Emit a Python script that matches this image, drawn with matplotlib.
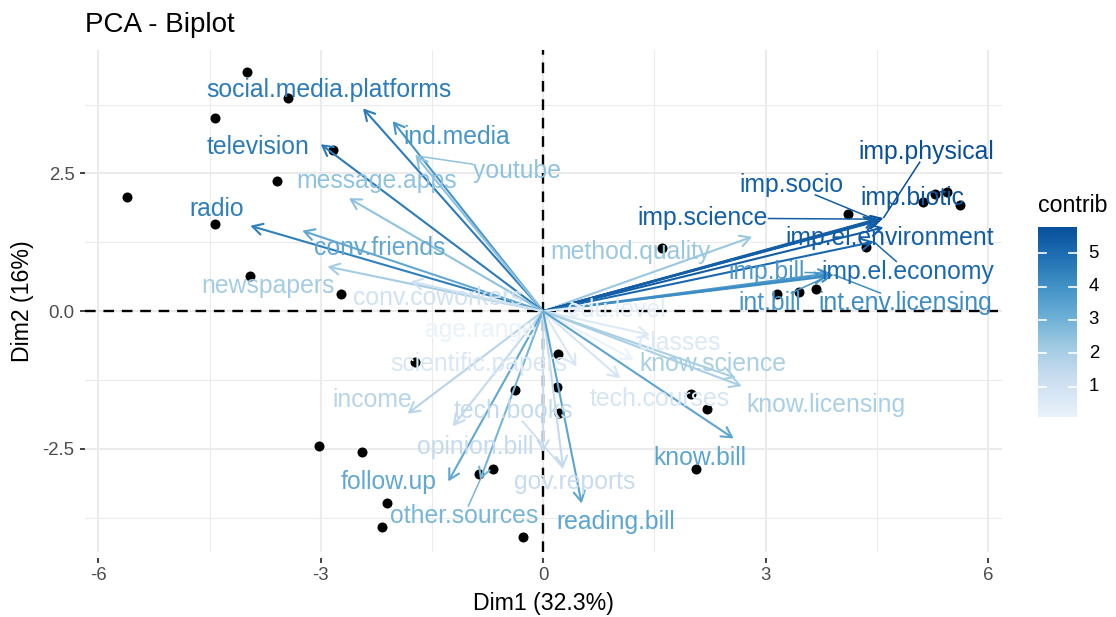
import numpy as np
import matplotlib
matplotlib.use("Agg")
import matplotlib.pyplot as plt
from matplotlib.colors import LinearSegmentedColormap, Normalize

plt.rcParams['font.family'] = ['Liberation Sans', 'DejaVu Sans']

# ---------------- data ----------------
var_names = ["social.media.platforms", "ind.media", "youtube", "television", "message.apps",
             "radio", "conv.friends", "newspapers", "conv.coworkers", "method.quality",
             "imp.physical", "imp.biotic", "imp.socio", "imp.science", "imp.el.environment",
             "imp.el.economy", "imp.bill", "int.bill", "int.env.licensing", "edu.level",
             "classes", "age.range", "scientific.papers", "tech.courses", "know.science",
             "know.licensing", "know.bill", "income", "opinion.bill", "follow.up",
             "other.sources", "gov.reports", "tech.books", "reading.bill"]
var_dim1 = [-2.43, -2.03, -1.72, -3.00, -2.62, -3.95, -3.25, -2.91, -1.79, 2.82,
            4.59, 4.56, 4.52, 4.50, 4.59, 4.46, 3.88, 3.83, 3.92, 0.55,
            1.44, 1.22, 0.45, 1.04, 2.60, 2.68, 2.57, -1.83, -1.22, -1.28,
            -0.85, 0.00, 0.27, 0.52]
var_dim2 = [3.68, 3.45, 2.82, 3.03, 2.05, 1.55, 1.46, 0.81, 0.54, 1.35,
            1.69, 1.66, 1.64, 1.67, 1.52, 1.26, 0.69, 0.63, 0.66, 0.08,
            -0.43, -0.88, -1.01, -1.22, -1.21, -1.36, -2.31, -1.86, -2.09, -3.09,
            -3.06, -2.56, -2.85, -3.49]
contrib = [4.6, 3.9, 2.5, 4.6, 2.5, 4.5, 3.3, 2.1, 1.0, 2.3,
           5.78, 5.6, 5.35, 5.35, 5.4, 5.1, 3.8, 3.9, 4.1, 0.3,
           0.6, 0.10, 0.7, 0.8, 2.0, 2.0, 3.4, 1.7, 1.4, 3.3,
           2.9, 1.3, 1.4, 3.4]

# repelled label placement (layout, data units)
label_x = [-2.89, -1.16, -0.35, -3.85, -2.25, -4.40, -2.20, -3.71, -1.42, 1.18,
           5.17, 4.98, 3.35, 2.15, 4.67, 4.92, 3.01, 3.06, 4.89, 0.98,
           1.84, -0.84, -0.87, 1.57, 2.29, 3.82, 2.12, -2.30, -0.92, -2.09,
           -1.07, 0.42, -0.40, 0.98]
label_y = [4.02, 3.16, 2.55, 2.98, 2.37, 1.86, 1.15, 0.46, 0.24, 1.08,
           2.89, 2.06, 2.29, 1.69, 1.33, 0.72, 0.72, 0.15, 0.15, 0.02,
           -0.58, -0.34, -0.96, -1.59, -0.96, -1.71, -2.66, -1.61, -2.46, -3.10,
           -3.72, -3.10, -1.81, -3.82]
segment_labels = ["youtube", "imp.physical", "imp.socio", "imp.science", "imp.el.economy",
                  "imp.bill", "int.bill", "int.env.licensing", "tech.books", "other.sources"]

ind_x = [-3.99, -3.44, -4.42, -2.83, -3.59, -5.61, -4.42, -3.96, -2.72, -1.73,
         0.20, -0.38, 0.19, 0.21, -3.02, -2.44, -0.86, -0.67, -2.10, -2.17,
         -0.27, 1.99, 2.21, 2.06, 1.61, 3.16, 3.45, 3.68, 4.11, 4.35,
         5.12, 5.28, 5.45, 5.63]
ind_y = [4.34, 3.86, 3.50, 2.93, 2.36, 2.07, 1.59, 0.64, 0.32, -0.92,
         -0.77, -1.43, -1.38, -1.84, -2.45, -2.55, -2.96, -2.86, -3.48, -3.91,
         -4.09, -1.50, -1.78, -2.87, 1.14, 0.32, 0.35, 0.40, 1.77, 1.16,
         1.99, 2.13, 2.16, 1.92]

x_ticks = [-6, -3, 0, 3, 6]
x_minor = [-4.5, -1.5, 1.5, 4.5]
y_ticks = [-2.5, 0.0, 2.5]
y_minor = [-3.75, -1.25, 1.25, 3.75]
cbar_ticks = [1, 2, 3, 4, 5]
contrib_min, contrib_max = min(contrib), max(contrib)

# ---------------- figure ----------------
W, H = 1116, 617
fig = plt.figure(figsize=(W / 100, H / 100), dpi=100)
fig.patch.set_facecolor('white')

def fx(px):
    return px / W

def fy(py):
    return 1 - py / H

ax = fig.add_axes([fx(85), fy(552), fx(1002) - fx(85), fy(50) - fy(552)])
ax.set_xlim(-6.18, 6.19)
ax.set_ylim(-4.37, 4.74)

for s in ax.spines.values():
    s.set_visible(False)
ax.spines['bottom'].set_position(('outward', 4.5))

ax.set_xticks(x_ticks)
ax.set_xticklabels([str(v) for v in x_ticks])
ax.set_xticks(x_minor, minor=True)
ax.set_yticks(y_ticks)
ax.set_yticklabels(["%.1f" % v for v in y_ticks])
ax.set_yticks(y_minor, minor=True)
ax.tick_params(axis='both', which='major', length=3.6, width=1.3, color='#333333',
               labelsize=13.4, labelcolor='#4D4D4D')
ax.tick_params(axis='x', which='major', pad=3)
ax.tick_params(axis='y', which='major', pad=4)
ax.tick_params(which='minor', length=0)
ax.grid(True, which='major', color='#EBEBEB', linewidth=1.45)
ax.grid(True, which='minor', color='#EBEBEB', linewidth=0.75)
ax.set_axisbelow(True)

cmap = LinearSegmentedColormap.from_list('bl', plt.get_cmap('Blues')(np.linspace(0.07, 0.88, 256)))
norm = Normalize(contrib_min, contrib_max)

# reference lines
ax.axhline(0, color='black', lw=1.7, dashes=(4.5, 3.3), zorder=1)
ax.axvline(0, color='black', lw=1.7, dashes=(4.5, 3.3), zorder=1)

# individuals
ax.scatter(ind_x, ind_y, s=52, color='black', zorder=2, linewidths=0)

# variable arrows
for i, name in enumerate(var_names):
    c = cmap(norm(contrib[i]))
    ax.annotate('', xy=(var_dim1[i], var_dim2[i]), xytext=(0, 0),
                arrowprops=dict(arrowstyle='->,head_length=0.36,head_width=0.2',
                                mutation_scale=20, color=c, lw=1.5,
                                shrinkA=0, shrinkB=0),
                zorder=3)

texts = []
for i, name in enumerate(var_names):
    c = cmap(norm(contrib[i]))
    t = ax.text(label_x[i], label_y[i], name, color=c, fontsize=17.8,
                ha='center', va='center', zorder=5)
    texts.append(t)

# repel segments
fig.canvas.draw()
renderer = fig.canvas.get_renderer()
inv = ax.transData.inverted()
for i, name in enumerate(var_names):
    if name not in segment_labels:
        continue
    bb = texts[i].get_window_extent(renderer)
    cx, cy = (bb.x0 + bb.x1) / 2, (bb.y0 + bb.y1) / 2
    px, py = ax.transData.transform((var_dim1[i], var_dim2[i]))
    dx, dy = px - cx, py - cy
    sx = (bb.width / 2) / abs(dx) if dx != 0 else np.inf
    sy = (bb.height / 2 * 0.8) / abs(dy) if dy != 0 else np.inf
    s = min(sx, sy, 1.0)
    x0, y0 = inv.transform((cx + dx * s, cy + dy * s))
    ax.plot([x0, var_dim1[i]], [y0, var_dim2[i]], color=cmap(norm(contrib[i])),
            lw=1.1, zorder=4, solid_capstyle='butt')

# titles
fig.text(fx(85), fy(32), 'PCA - Biplot', fontsize=20, ha='left', va='baseline', color='black')
fig.text(fx(543), fy(610), 'Dim1 (32.3%)', fontsize=16.7, ha='center', va='baseline', color='black')
fig.text(fx(22), fy(301), 'Dim2 (16%)', fontsize=16.7, ha='center', va='center',
         rotation=90, color='black')

# colorbar legend
cax = fig.add_axes([fx(1038), fy(417), fx(1077) - fx(1038), fy(227) - fy(417)])
grad = np.linspace(contrib_min, contrib_max, 300).reshape(-1, 1)
cax.imshow(grad, aspect='auto', cmap=cmap, norm=norm, origin='lower',
           extent=[0, 1, contrib_min, contrib_max])
cax.set_xlim(0, 1)
cax.set_ylim(contrib_min, contrib_max)
cax.set_xticks([])
cax.set_yticks([])
for s in cax.spines.values():
    s.set_visible(False)
for v in cbar_ticks:
    cax.plot([0, 0.2], [v, v], color='white', lw=1.2)
    cax.plot([0.8, 1], [v, v], color='white', lw=1.2)
    cax.text(1.3, v, str(v), transform=cax.get_yaxis_transform(), fontsize=13.4,
             ha='left', va='center', color='black')
fig.text(fx(1038), fy(205), 'contrib', fontsize=16.7, ha='left', va='center', color='black')

fig.savefig('out.png', dpi=100, facecolor='white')
